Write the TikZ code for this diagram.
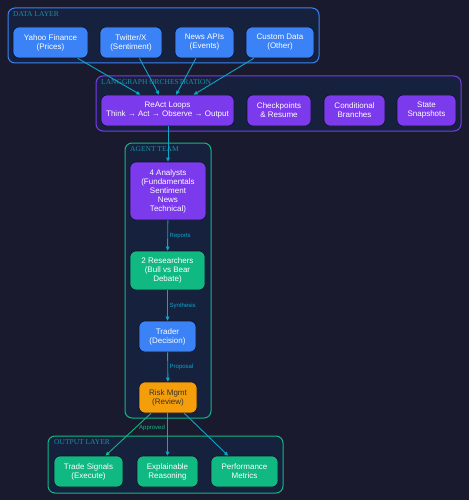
\documentclass[tikz,border=0pt]{standalone}
\usepackage{fontspec}
\setmainfont{Liberation Serif}
\setsansfont{Liberation Sans}
\usetikzlibrary{arrows.meta}
\definecolor{bg}{HTML}{1A1A2E}
\definecolor{clfill}{HTML}{16213E}
\definecolor{cblue}{HTML}{3B82F6}
\definecolor{cpurple}{HTML}{7C3AED}
\definecolor{cgreen}{HTML}{10B981}
\definecolor{corange}{HTML}{F59E0B}
\definecolor{cedge}{HTML}{0EA5C9}
\definecolor{clabel}{HTML}{1B8EA3}
\definecolor{nborder}{HTML}{111122}
\tikzset{
  cluster/.style={draw, line width=1pt, fill=clfill, rounded corners=7pt},
  cltext/.style={anchor=north west, inner sep=0pt, font=\rmfamily\fontsize{7.5}{8}\selectfont, text=clabel},
  box/.style={draw=nborder, line width=0.6pt, rounded corners=6pt, inner sep=0pt, align=center,
    minimum height=31pt, text=white, font=\sffamily\fontsize{8}{9}\selectfont},
  bbox/.style={box, fill=cblue},
  pbox/.style={box, fill=cpurple},
  gbox/.style={box, fill=cgreen},
  obox/.style={box, fill=corange, text=black!80},
  conn/.style={draw=cedge, line width=0.9pt, -{Triangle[length=4pt,width=3.5pt]}},
  elabel/.style={font=\sffamily\fontsize{6}{7}\selectfont, text=cedge, inner sep=0pt, anchor=west},
}
\begin{document}
\begin{tikzpicture}[x=1pt,y=-1pt]
\useasboundingbox (0,0) rectangle (469,500);
\fill[bg] (0,0) rectangle (469,500);
% clusters
\draw[cluster, draw=cblue] (8,8) rectangle (319,63);
\node[cltext] (ldata) at (13,11.5) {DATA LAYER};
\draw[cluster, draw=cpurple] (96,76) rectangle (461,131);
\node[cltext] (llang) at (101,79.5) {LANGGRAPH ORCHESTRATION};
\draw[cluster, draw=cgreen] (125,143) rectangle (211,418);
\node[cltext] (lagent) at (130,146.5) {AGENT TEAM};
\draw[cluster, draw=cgreen] (48,436) rectangle (283,493);
\node[cltext] (lout) at (54,439.5) {OUTPUT LAYER};
% data layer
\node[bbox, minimum width=75pt] (yahoo) at (50.5,42.5) {Yahoo Finance\\(Prices)};
\node[bbox, minimum width=62pt] (twitter) at (131,42.5) {Twitter/X\\(Sentiment)};
\node[bbox, minimum width=59pt] (news) at (204.5,42.5) {News APIs\\(Events)};
\node[bbox, minimum width=68pt] (custom) at (280,42.5) {Custom Data\\(Other)};
% langgraph
\node[pbox, minimum width=133pt] (react) at (167.5,110.5) {ReAct Loops\\Think → Act → Observe → Output};
\node[pbox, minimum width=64pt] (check) at (279,110.5) {Checkpoints\\\& Resume};
\node[pbox, minimum width=61pt] (cond) at (354.5,110.5) {Conditional\\Branches};
\node[pbox, minimum width=59pt] (state) at (426.5,110.5) {State\\Snapshots};
% agents
\node[pbox, minimum width=76pt, minimum height=58pt] (analysts) at (168,191) {4 Analysts\\(Fundamentals\\Sentiment\\News\\Technical)};
\node[gbox, minimum width=75pt, minimum height=39pt] (research) at (167.5,270.5) {2 Researchers\\(Bull vs Bear\\Debate)};
\node[bbox, minimum width=57pt] (trader) at (167.5,336.5) {Trader\\(Decision)};
\node[obox, minimum width=58pt] (risk) at (168,397.5) {Risk Mgmt\\(Review)};
% outputs
\node[gbox, minimum width=69pt] (signals) at (88.5,471.5) {Trade Signals\\(Execute)};
\node[gbox, minimum width=61pt] (explain) at (167.5,471.5) {Explainable\\Reasoning};
\node[gbox, minimum width=67pt] (perf) at (244.5,471.5) {Performance\\Metrics};
% edges
\draw[conn] (yahoo) -- (react);
\draw[conn] (twitter) -- (react);
\draw[conn] (news) -- (react);
\draw[conn] (custom) -- (react);
\draw[conn] (react.south -| analysts.north) -- (analysts.north);
\draw[conn] (analysts) -- (research);
\node[elabel] (lrep) at (169.5,236) {Reports};
\draw[conn] (research) -- (trader);
\node[elabel] (lsyn) at (169.5,306) {Synthesis};
\draw[conn] (trader) -- (risk);
\node[elabel] (lprop) at (169.5,367) {Proposal};
\draw[conn, draw=cgreen] (risk) -- (signals);
\node[elabel, text=cgreen] (lapp) at (139,428) {Approved};
\draw[conn] (risk.south -| explain.north) -- (explain);
\draw[conn] (risk) -- (perf);
\end{tikzpicture}
\end{document}
